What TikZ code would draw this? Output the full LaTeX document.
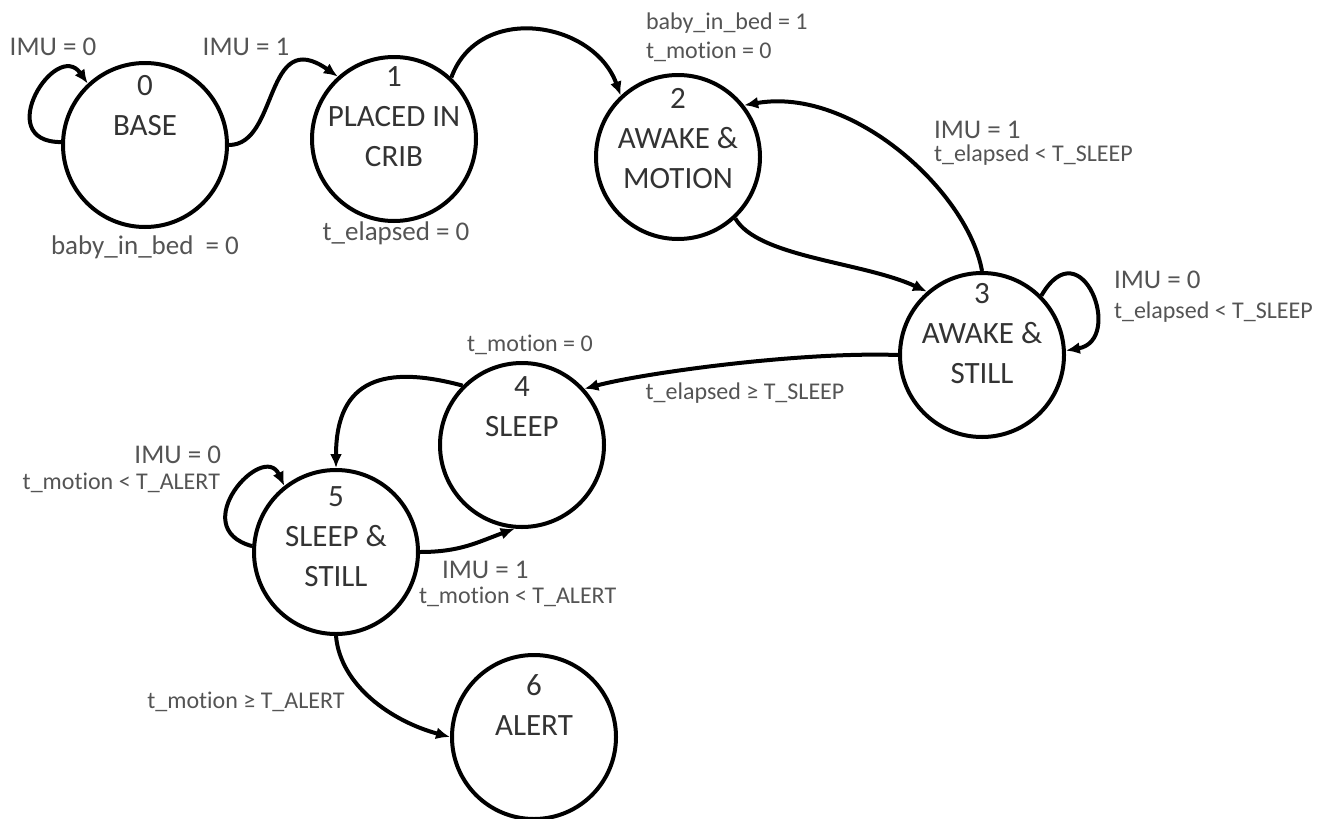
\documentclass[tikz,border=0pt]{standalone}
\usepackage{fontspec}
\setmainfont{Carlito}[Ligatures=NoCommon]
\usetikzlibrary{arrows.meta}
\definecolor{stategray}{gray}{0.2}
\definecolor{condgray}{gray}{0.33}
\tikzset{
	state/.style={circle,draw,minimum size=164pt,inner sep=0pt},
	statetext/.style={anchor=north,align=center,inner sep=0pt,text=stategray,font=\fontsize{31}{40}\selectfont},
	cond/.style={inner sep=0pt,text=condgray,font=\fontsize{24}{28}\selectfont},
	bigcond/.style={inner sep=0pt,text=condgray,font=\fontsize{27}{30}\selectfont}
}

\begin{document}
\begin{tikzpicture}[x=1pt,y=1pt,line width=4pt,>={Latex[length=14pt,width=12pt]}]

	\useasboundingbox (0,0) rectangle (1333,-819);

	\node[state] (s0) at (145,-145) {};
	\node[state] (s1) at (394,-139) {};
	\node[state] (s2) at (678,-157) {};
	\node[state] (s3) at (982,-355) {};
	\node[state] (s4) at (522,-445) {};
	\node[state] (s5) at (336,-552) {};
	\node[state] (s6) at (534,-737) {};

	\node[statetext] (t0) at ([yshift=-12pt]s0.north) {0\\BASE};
	\node[statetext] (t1) at ([yshift=-10pt]s1.north) {1\\PLACED IN\\CRIB};
	\node[statetext] (t2) at ([yshift=-13pt]s2.north) {2\\AWAKE \&\\MOTION};
	\node[statetext] (t3) at ([yshift=-10pt]s3.north) {3\\AWAKE \&\\STILL};
	\node[statetext] (t4) at ([yshift=-14pt]s4.north) {4\\SLEEP};
	\node[statetext] (t5) at ([yshift=-17pt]s5.north) {5\\SLEEP \&\\STILL};
	\node[statetext] (t6) at ([yshift=-20pt]s6.north) {6\\ALERT};

	\path[->] (s0.178) edge[out=180,in=125,out distance=70pt,in distance=55pt] (s0.133);
	\path[->] (s0.east) edge[out=0,in=145,out distance=50pt,in distance=90pt] (s1.132);
	\path[->] (s1.47) edge[out=70,in=110,distance=80pt] (s2.133);
	\path[->] (s2.-47) edge[out=-60,in=155,out distance=45pt,in distance=70pt] (s3.131);
	\path[->] (s3.north) edge[out=100,in=10,out distance=80pt,in distance=110pt] (s2.38);
	\path[->] (s3.45) edge[out=60,in=10,out distance=80pt,in distance=60pt] (s3.3);
	\path[->] (s3.west) edge[out=178,in=15,out distance=100pt,in distance=60pt] (s4.42);
	\path[->] (s4.135) edge[out=165,in=90,out distance=80pt,in distance=90pt] (s5.north);
	\path[->] (s5.176) edge[out=165,in=115,out distance=70pt,in distance=50pt] (s5.128);
	\path[->] (s5.east) edge[out=0,in=200,out distance=40pt,in distance=40pt] (s4.265);
	\path[->] (s5.south) edge[out=-85,in=165,out distance=50pt,in distance=60pt] (s6.west);

	\node[bigcond] (c00) at (53,-47) {IMU = 0};
	\node[bigcond] (c01) at (246,-47) {IMU = 1};
	\node[bigcond] (c0) at (145,-247) {baby\_in\_bed\ \ = 0};
	\node[bigcond] (c1) at (396,-233) {t\_elapsed = 0};
	\node[cond,anchor=west] (c12a) at (644,-23) {baby\_in\_bed = 1};
	\node[cond,anchor=west] (c12b) at (644,-52) {t\_motion = 0};
	\node[bigcond,anchor=west] (c32a) at (932,-130) {IMU = 1};
	\node[cond,anchor=west] (c32b) at (932,-155) {t\_elapsed < T\_SLEEP};
	\node[bigcond,anchor=west] (c33a) at (1112,-280) {IMU = 0};
	\node[cond,anchor=west] (c33b) at (1112,-312) {t\_elapsed < T\_SLEEP};
	\node[cond] (c34) at (745,-393) {t\_elapsed ≥ T\_SLEEP};
	\node[cond] (c45) at (530,-345) {t\_motion = 0};
	\node[bigcond,anchor=east] (c55a) at (223,-455) {IMU = 0};
	\node[cond,anchor=east] (c55b) at (222,-483) {t\_motion < T\_ALERT};
	\node[bigcond,anchor=west] (c54a) at (440,-570) {IMU = 1};
	\node[cond,anchor=west] (c54b) at (417,-597) {t\_motion < T\_ALERT};
	\node[cond] (c56) at (246,-702) {t\_motion ≥ T\_ALERT};

\end{tikzpicture}
\end{document}
